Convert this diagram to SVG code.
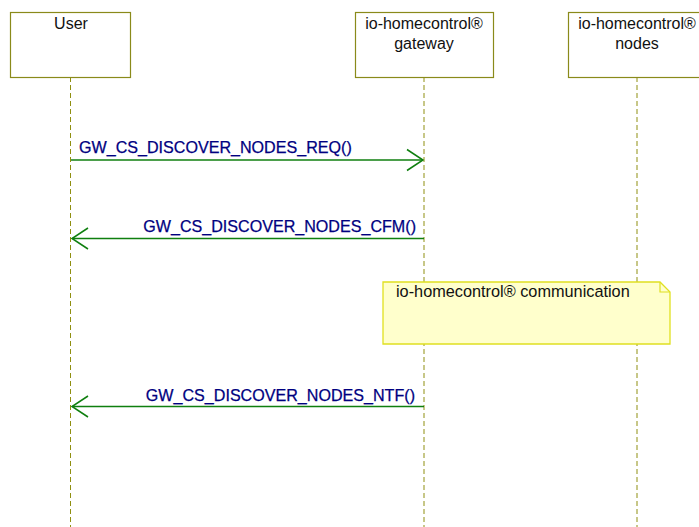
<svg xmlns="http://www.w3.org/2000/svg" width="699" height="527" viewBox="0 0 699 527">
<style>
.box{fill:#ffffff;stroke:#8a8a1a;stroke-width:1.2}
.life{stroke:#8f8f10;stroke-width:1;stroke-dasharray:5,3;fill:none}
.hdr{font-family:"Liberation Sans",Arial,sans-serif;font-size:16px;fill:#111111;text-anchor:middle}
.msg{stroke:#0f7f0f;stroke-width:1.3;fill:none}
.lbl{font-family:"Liberation Sans",Arial,sans-serif;font-size:16.1px;fill:#000080;stroke:#000080;stroke-width:0.25}
.note{fill:#ffffcc;stroke:#e0e020;stroke-width:1.3}
.ntxt{font-family:"Liberation Sans",Arial,sans-serif;font-size:16.3px;fill:#111111}
</style>
<defs>
<marker id="open" markerUnits="userSpaceOnUse" markerWidth="20" markerHeight="24" refX="17" refY="11" orient="auto" viewBox="0 0 20 22">
<path d="M1,0.5 L17,11 L1,21.5" fill="none" stroke="#0f7f0f" stroke-width="1.5"/>
</marker>
</defs>
<rect x="0" y="0" width="699" height="527" fill="#ffffff"/>
<g id="lifelines">
<line class="life" x1="70.5" y1="77" x2="70.5" y2="527"/>
<line class="life" x1="424" y1="77" x2="424" y2="527"/>
<line class="life" x1="637" y1="77" x2="637" y2="527"/>
</g>
<g id="user">
<rect class="box" x="10.5" y="12.5" width="120" height="65"/>
<text class="hdr" x="71" y="29">User</text>
</g>
<g id="gateway">
<rect class="box" x="355.5" y="12.5" width="138" height="65"/>
<text class="hdr" x="424" y="29">io-homecontrol®</text>
<text class="hdr" x="424" y="49">gateway</text>
</g>
<g id="nodes">
<rect class="box" x="568.5" y="12.5" width="138" height="65"/>
<text class="hdr" x="637" y="29">io-homecontrol®</text>
<text class="hdr" x="637" y="49">nodes</text>
</g>
<g id="connectors">
<line class="msg" x1="71" y1="160" x2="423" y2="160" marker-end="url(#open)"/>
<text class="lbl" x="79" y="153">GW_CS_DISCOVER_NODES_REQ()</text>
<line class="msg" x1="424" y1="238.5" x2="72" y2="238.5" marker-end="url(#open)"/>
<text class="lbl" x="416" y="232" text-anchor="end">GW_CS_DISCOVER_NODES_CFM()</text>
<line class="msg" x1="424" y1="406.5" x2="72" y2="406.5" marker-end="url(#open)"/>
<text class="lbl" x="415" y="401" text-anchor="end">GW_CS_DISCOVER_NODES_NTF()</text>
</g>
<g id="note">
<path class="note" d="M383,282 L660,282 L670,292 L670,344 L383,344 Z"/>
<path d="M660,282 L660,292 L670,292" fill="none" stroke="#e0e020" stroke-width="1.2"/>
<text class="ntxt" x="396" y="297">io-homecontrol® communication</text>
</g>
</svg>
